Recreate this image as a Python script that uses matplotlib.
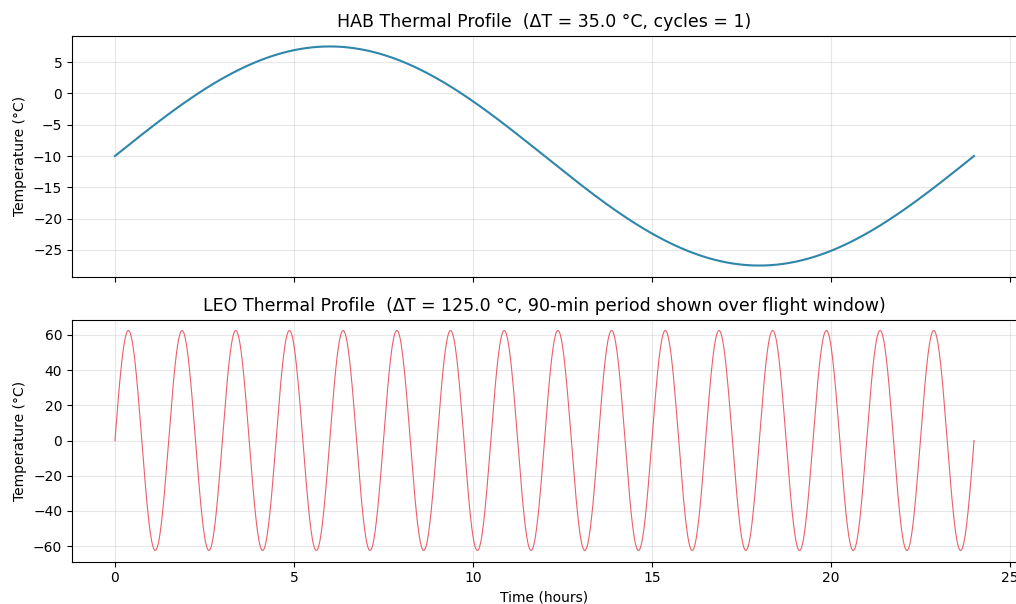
import numpy as np
import matplotlib
matplotlib.use("Agg")
import matplotlib.pyplot as plt

# Data parameters
flight_hours = 24.0
hab_mean_c = -10.0
hab_delta_t = 35.0
hab_cycles = 1
leo_mean_c = 0.0
leo_delta_t = 125.0
leo_period_min = 90.0

t = np.linspace(0, flight_hours, 2000)
hab_temp = hab_mean_c + hab_delta_t / 2 * np.sin(2 * np.pi * hab_cycles * t / flight_hours)
leo_temp = leo_mean_c + leo_delta_t / 2 * np.sin(2 * np.pi * t / (leo_period_min / 60.0))

W, H = 1016, 604
fig = plt.figure(figsize=(W / 100, H / 100), dpi=100)
x0, x1 = 72 / W, 1017 / W
ax1 = fig.add_axes([x0, 1 - 276.5 / H, x1 - x0, (276.5 - 35.5) / H])
ax2 = fig.add_axes([x0, 1 - 561.5 / H, x1 - x0, (561.5 - 319.5) / H], sharex=ax1)

ax1.plot(t, hab_temp, color="#2E86AB", linewidth=1.5)
ax1.set_title(f"HAB Thermal Profile  (ΔT = {hab_delta_t:.1f} °C, cycles = {hab_cycles})", fontsize=12.5)
ax1.set_ylabel("Temperature (°C)")
ax1.grid(True, alpha=0.3)
ax1.tick_params(labelbottom=False)

ax2.plot(t, leo_temp, color="#E63946", linewidth=0.8, alpha=0.8)
ax2.set_title(f"LEO Thermal Profile  (ΔT = {leo_delta_t:.1f} °C, 90-min period shown over flight window)", fontsize=12.5)
ax2.set_ylabel("Temperature (°C)")
ax2.set_xlabel("Time (hours)")
ax2.grid(True, alpha=0.3)

fig.savefig("out.png", dpi=100)
